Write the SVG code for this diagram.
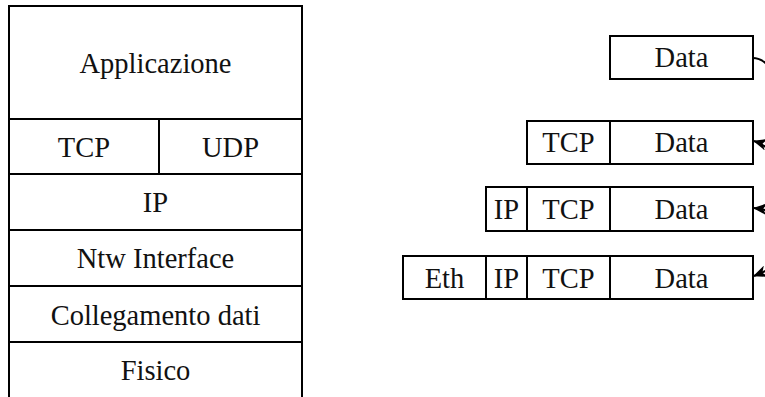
<svg xmlns="http://www.w3.org/2000/svg" width="765" height="397" viewBox="0 0 765 397">
  <style>
    .box { fill: #ffffff; stroke: #000000; stroke-width: 2; }
    .sep { stroke: #000000; stroke-width: 2; fill: none; }
    .lbl { font-family: "Liberation Serif", "Times New Roman", serif; font-size: 28.5px; fill: #111111; text-anchor: middle; }
    .link { fill: none; stroke: #000000; stroke-width: 2; }
  </style>
  <defs>
    <marker id="head" viewBox="0 0 14 12" refX="13" refY="6" markerWidth="14" markerHeight="12" markerUnits="userSpaceOnUse" orient="auto">
      <path d="M0,0 L14,6 L0,12 L4,6 Z" fill="#000000"/>
    </marker>
  </defs>

  <rect width="765" height="397" fill="#ffffff"/>

  <!-- protocol stack -->
  <g id="stack">
    <rect class="box" x="9" y="6" width="293" height="392"/>
    <g id="layer-app">
      <text class="lbl" x="155.5" y="73">Applicazione</text>
    </g>
    <line class="sep" x1="9" y1="119" x2="302" y2="119"/>
    <g id="layer-tcp">
      <text class="lbl" x="84" y="157">TCP</text>
    </g>
    <line class="sep" x1="159" y1="119" x2="159" y2="174"/>
    <g id="layer-udp">
      <text class="lbl" x="230.5" y="157">UDP</text>
    </g>
    <line class="sep" x1="9" y1="174" x2="302" y2="174"/>
    <g id="layer-ip">
      <text class="lbl" x="155.5" y="212">IP</text>
    </g>
    <line class="sep" x1="9" y1="230" x2="302" y2="230"/>
    <g id="layer-ntw">
      <text class="lbl" x="155.5" y="268">Ntw Interface</text>
    </g>
    <line class="sep" x1="9" y1="286" x2="302" y2="286"/>
    <g id="layer-link">
      <text class="lbl" x="155.5" y="325">Collegamento dati</text>
    </g>
    <line class="sep" x1="9" y1="342" x2="302" y2="342"/>
    <g id="layer-phys">
      <text class="lbl" x="155.5" y="380">Fisico</text>
    </g>
  </g>

  <!-- encapsulated frames -->
  <g id="frame-data">
    <rect class="box" x="610" y="36" width="143" height="43"/>
    <text class="lbl" x="681.5" y="67">Data</text>
  </g>

  <g id="frame-tcp">
    <rect class="box" x="527" y="121" width="226" height="43"/>
    <line class="sep" x1="610" y1="121" x2="610" y2="164"/>
    <text class="lbl" x="568.5" y="152">TCP</text>
    <text class="lbl" x="681.5" y="152">Data</text>
  </g>

  <g id="frame-ip">
    <rect class="box" x="486" y="187" width="267" height="44"/>
    <line class="sep" x1="527" y1="187" x2="527" y2="231"/>
    <line class="sep" x1="610" y1="187" x2="610" y2="231"/>
    <text class="lbl" x="506.5" y="219">IP</text>
    <text class="lbl" x="568.5" y="219">TCP</text>
    <text class="lbl" x="681.5" y="219">Data</text>
  </g>

  <g id="frame-eth">
    <rect class="box" x="403" y="256" width="350" height="43"/>
    <line class="sep" x1="486" y1="256" x2="486" y2="299"/>
    <line class="sep" x1="527" y1="256" x2="527" y2="299"/>
    <line class="sep" x1="610" y1="256" x2="610" y2="299"/>
    <text class="lbl" x="444.5" y="288">Eth</text>
    <text class="lbl" x="506.5" y="288">IP</text>
    <text class="lbl" x="568.5" y="288">TCP</text>
    <text class="lbl" x="681.5" y="288">Data</text>
  </g>

  <!-- connectors: encapsulation arcs leaving past the right edge -->
  <g id="connectors">
    <path class="link" d="M753,58 C760,58 766,62 772,70"/>
    <path class="link" d="M780,160 C772,152 764,144 754,141" marker-end="url(#head)"/>
    <path class="link" d="M785,218 C775,213 764,209 754,208" marker-end="url(#head)"/>
    <path class="link" d="M785,262 C775,266 764,272 754,276" marker-end="url(#head)"/>
  </g>
</svg>
